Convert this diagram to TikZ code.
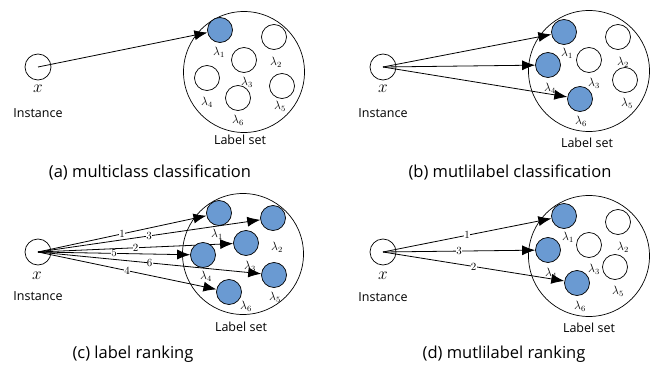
\documentclass[tikz,border=0pt]{standalone}
\usepackage{fontspec}
\setmainfont{Open Sans}
\usetikzlibrary{arrows.meta,backgrounds}
\definecolor{lblue}{RGB}{106,154,210}

\tikzset{
  inst/.style={circle, draw, line width=0.7pt, minimum size=26pt, inner sep=0pt},
  lab/.style={circle, draw, line width=0.7pt, minimum size=25pt, inner sep=0pt},
  on/.style={lab, fill=lblue},
  lset/.style={circle, draw, line width=0.7pt, minimum size=121pt, inner sep=0pt},
  arr/.style={-{Latex[length=13pt,width=10pt]}, line width=0.8pt},
  rank/.style={midway, fill=white, inner sep=0.2pt, font=\fontsize{11}{12}\selectfont},
  captxt/.style={font=\fontsize{16.5}{18}\selectfont},
  txt/.style={font=\fontsize{12.5}{14}\selectfont},
  xvar/.style={font=\fontsize{19}{20}\selectfont},
  lam/.style={font=\fontsize{12}{13}\selectfont},
}

\begin{document}
\begin{tikzpicture}[x=1pt, y=-1pt]
  \useasboundingbox (0,0) rectangle (654,369);

  % (a) multiclass classification
  \node[inst] (xa) at (38,67) {};
  \node[xvar] (xa-v) at (38,89) {$x$};
  \node[txt] (xa-t) at (38,113) {Instance};
  \node[lset] (Sa) at (244,72) {};
  \node[on]  (a1) at (220,30) {};
  \node[lab] (a2) at (274,37) {};
  \node[lab] (a3) at (244,60) {};
  \node[lab] (a4) at (207,78) {};
  \node[lab] (a5) at (282,86) {};
  \node[lab] (a6) at (238,98) {};
  \node[lam] (a1-l) at (219,52) {$\lambda_1$};
  \node[lam] (a2-l) at (276,62) {$\lambda_2$};
  \node[lam] (a3-l) at (247,82) {$\lambda_3$};
  \node[lam] (a4-l) at (207,102) {$\lambda_4$};
  \node[lam] (a5-l) at (280,106) {$\lambda_5$};
  \node[lam] (a6-l) at (238,120) {$\lambda_6$};
  \node[txt] (Sa-t) at (240,140) {Label set};
  \node[captxt] (cap-a) at (150,172) {(a) multiclass classification};
  \begin{scope}[on background layer]
    \draw[arr] (xa.center) -- (a1);
  \end{scope}

  % (b) mutlilabel classification
  \node[inst] (xb) at (383,67) {};
  \node[xvar] (xb-v) at (383,89) {$x$};
  \node[txt] (xb-t) at (383,113) {Instance};
  \node[lset] (Sb) at (589,71) {};
  \node[on]  (b1) at (564,32) {};
  \node[lab] (b2) at (618,37) {};
  \node[lab] (b3) at (589,60) {};
  \node[on]  (b4) at (548,65) {};
  \node[lab] (b5) at (625,80) {};
  \node[on]  (b6) at (580,99) {};
  \node[lam] (b1-l) at (567,53) {$\lambda_1$};
  \node[lam] (b2-l) at (623,62) {$\lambda_2$};
  \node[lam] (b3-l) at (594,83) {$\lambda_3$};
  \node[lam] (b4-l) at (550,88) {$\lambda_4$};
  \node[lam] (b5-l) at (627,103) {$\lambda_5$};
  \node[lam] (b6-l) at (581,121) {$\lambda_6$};
  \node[txt] (Sb-t) at (587,143) {Label set};
  \node[captxt] (cap-b) at (510,172) {(b) mutlilabel classification};
  \begin{scope}[on background layer]
    \draw[arr] (xb.center) -- (b1);
    \draw[arr] (xb.center) -- (b4);
    \draw[arr] (xb.center) -- (b6);
  \end{scope}

  % (c) label ranking
  \node[inst] (xc) at (38,252) {};
  \node[xvar] (xc-v) at (37,276) {$x$};
  \node[txt] (xc-t) at (38,296) {Instance};
  \node[lset] (Sc) at (243,254) {};
  \node[on] (c1) at (219,213) {};
  \node[on] (c2) at (273,218) {};
  \node[on] (c3) at (246,243) {};
  \node[on] (c4) at (203,255) {};
  \node[on] (c5) at (274,275) {};
  \node[on] (c6) at (229,292) {};
  \node[lam] (c1-l) at (217,234) {$\lambda_1$};
  \node[lam] (c2-l) at (277,247) {$\lambda_2$};
  \node[lam] (c3-l) at (250,266) {$\lambda_3$};
  \node[lam] (c4-l) at (206,276) {$\lambda_4$};
  \node[lam] (c5-l) at (275,297) {$\lambda_5$};
  \node[lam] (c6-l) at (246,306) {$\lambda_6$};
  \node[txt] (Sc-t) at (241,327) {Label set};
  \node[captxt] (cap-c) at (133,354) {(c) label ranking};
  \begin{scope}[on background layer]
    \draw[arr] (xc.center) -- (c1) node[rank] {$1$};
    \draw[arr] (xc.center) -- (c2) node[rank] {$3$};
    \draw[arr] (xc.center) -- (c3) node[rank] {$2$};
    \draw[arr] (xc.center) -- (c4) node[rank] {$5$};
    \draw[arr] (xc.center) -- (c5) node[rank] {$6$};
    \draw[arr] (xc.center) -- (c6) node[rank] {$4$};
  \end{scope}

  % (d) mutlilabel ranking
  \node[inst] (xd) at (383,252) {};
  \node[xvar] (xd-v) at (383,276) {$x$};
  \node[txt] (xd-t) at (383,297) {Instance};
  \node[lset] (Sd) at (589,256) {};
  \node[on]  (d1) at (564,216) {};
  \node[lab] (d2) at (618,222) {};
  \node[lab] (d3) at (589,245) {};
  \node[on]  (d4) at (548,250) {};
  \node[lab] (d5) at (615,267) {};
  \node[on]  (d6) at (577,283) {};
  \node[lam] (d1-l) at (568,237) {$\lambda_1$};
  \node[lam] (d2-l) at (623,247) {$\lambda_2$};
  \node[lam] (d3-l) at (594,269) {$\lambda_3$};
  \node[lam] (d4-l) at (551,273) {$\lambda_4$};
  \node[lam] (d5-l) at (618,291) {$\lambda_5$};
  \node[lam] (d6-l) at (580,306) {$\lambda_6$};
  \node[txt] (Sd-t) at (589,328) {Label set};
  \node[captxt] (cap-d) at (504,354) {(d) mutlilabel ranking};
  \begin{scope}[on background layer]
    \draw[arr] (xd.center) -- (d1) node[rank] {$1$};
    \draw[arr] (xd.center) -- (d4) node[rank] {$3$};
    \draw[arr] (xd.center) -- (d6) node[rank] {$2$};
  \end{scope}
\end{tikzpicture}
\end{document}
